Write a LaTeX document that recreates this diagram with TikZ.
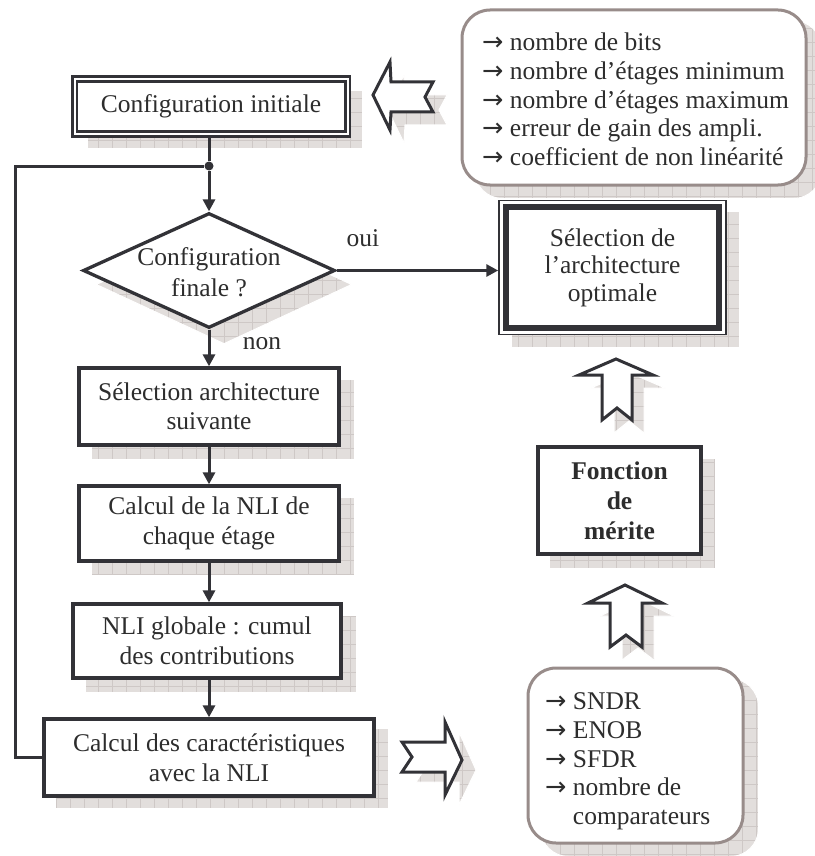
\documentclass[tikz,border=0pt]{standalone}
\usepackage{fontspec}
\setmainfont{Liberation Serif}
\newfontfamily\arrowfont{DejaVu Sans}
\usetikzlibrary{shapes.geometric,arrows.meta,backgrounds}
\definecolor{ink}{RGB}{50,50,55}
\definecolor{txt}{RGB}{45,45,45}
\definecolor{shfill}{RGB}{226,222,220}
\definecolor{shgrid}{RGB}{206,200,198}
\definecolor{rbord}{RGB}{152,140,138}
\newcommand\ar{{\arrowfont →}}
\newcommand\dropsh[1]{%
  \begin{scope}
    \clip #1;
    \fill[shfill] (0,0) rectangle (830,870);
    \foreach \g in {0,14,...,868}{%
      \draw[shgrid,line width=0.6pt] (\g,0) -- (\g,870);
      \draw[shgrid,line width=0.6pt] (0,\g) -- (830,\g);}
  \end{scope}
  \draw[white,line width=1pt] #1;}
\begin{document}
\begin{tikzpicture}[x=1pt,y=-1pt,
  font=\fontsize{25.5}{29.5}\selectfont, text=txt,
  procbox/.style={draw=ink, line width=3.3pt, fill=white, align=center, inner sep=0pt},
  listbox/.style={draw=rbord, line width=3pt, rounded corners=28pt, fill=white, inner sep=0pt},
  listtext/.style={anchor=west, align=left, inner sep=0pt, font=\fontsize{25.5}{28.75}\selectfont},
  conn/.style={draw=ink, line width=3pt},
  arr/.style={conn, -{Triangle[length=12pt,width=12pt]}},
  harrow/.style={draw=ink, line width=3pt, fill=white, line join=miter}]
\useasboundingbox (0,0) rectangle (814,856);

% nodes
\node[procbox, line width=2.8pt, double=white, double distance=2pt,
      minimum width=273, minimum height=55] (init) at (211,106.5) {Configuration initiale};
\node[circle, fill=ink, inner sep=0pt, minimum size=9] (dot) at (209,166) {};
\node[diamond, draw=ink, line width=3.3pt, fill=white, inner sep=0pt,
      minimum width=252, minimum height=115] (dia) at (209,270.5) {};
\node[align=center] (dtxt) at (209,272) {Configuration\\[1pt]finale ?};
\node (oui) at (363,238) {oui};
\node (non) at (262,344) {non};

\node[procbox, line width=1.5pt, minimum width=227, minimum height=134] (opt) at (612.5,267.5)
  {Sélection de\\[-2pt]l’architecture\\[-2pt]optimale};
\draw[ink, line width=6pt] ([shift={(7.5,7.5)}]opt.north west) rectangle ([shift={(-7.5,-7.5)}]opt.south east);

\node[procbox, minimum width=260, minimum height=77] (sel) at (209,406.5) {Sélection architecture\\suivante};
\node[procbox, minimum width=260, minimum height=75] (nli) at (209,523.5) {Calcul de la NLI de\\chaque étage};
\node[procbox, minimum width=268, minimum height=74] (glob) at (207,641) {NLI globale : cumul\\des contributions};
\node[procbox, minimum width=330, minimum height=77] (car) at (209,757.5) {Calcul des caractéristiques\\avec la NLI};
\node[procbox, minimum width=163, minimum height=107, font=\fontsize{25.5}{30}\selectfont\bfseries] (fm) at (619.5,500.5)
  {Fonction\\de\\mérite};

\node[listbox, minimum width=344, minimum height=175] (params) at (634,97.5) {};
\node[listtext] (ptxt) at (482,99.5)
  {\ar\ nombre de bits\\\ar\ nombre d’étages minimum\\\ar\ nombre d’étages maximum\\\ar\ erreur de gain des ampli.\\\ar\ coefficient de non linéarité};
\node[listbox, minimum width=215, minimum height=175] (res) at (635.5,755.5) {};
\node[listtext] (rtxt) at (545,761.5)
  {\ar\ SNDR\\\ar\ ENOB\\\ar\ SFDR\\\ar\ nombre de\\\phantom{\ar\ }comparateurs};

% hollow arrows
\draw[harrow] (373,95) -- (390,62) -- (391,82) -- (433,82) -- (425,97) -- (433,112) -- (391,112) -- (390,130) -- cycle;
\draw[harrow] (462,760) -- (445,722) -- (445,742) -- (402,742) -- (412,757) -- (402,772) -- (445,772) -- (445,795) -- cycle;
\draw[harrow] (616,359) -- (579,375) -- (602,375) -- (602,420) -- (617,408) -- (632,420) -- (632,375) -- (653,375) -- cycle;
\draw[harrow] (625,585) -- (588,603) -- (610,603) -- (610,647) -- (626,635) -- (642,647) -- (642,603) -- (662,603) -- cycle;

% connectors
\draw[conn] (init.south -| dot) -- (dot);
\draw[arr] (dot) -- (dia.north);
\draw[arr] (dia.east) -- (dia.east -| opt.west);
\draw[arr] (dia.south) -- (sel.north);
\draw[arr] (sel.south) -- (nli.north);
\draw[arr] (nli.south) -- (glob.north -| nli.south);
\draw[arr] (glob.south -| car.north) -- (car.north);
\coordinate (lp) at (15,166);
\draw[conn] (car.west) -| (lp) -- (dot);

% shadows
\begin{pgfonlayer}{background}
\dropsh{([shift={(14,13)}]init.north west) rectangle ([shift={(14,13)}]init.south east)}
\dropsh{([shift={(15,14)}]dia.north) -- ([shift={(15,14)}]dia.east) -- ([shift={(15,14)}]dia.south) -- ([shift={(15,14)}]dia.west) -- cycle}
\dropsh{([shift={(13,12)}]opt.north west) rectangle ([shift={(13,12)}]opt.south east)}
\dropsh{([shift={(14,13)}]sel.north west) rectangle ([shift={(14,13)}]sel.south east)}
\dropsh{([shift={(14,13)}]nli.north west) rectangle ([shift={(14,13)}]nli.south east)}
\dropsh{([shift={(14,13)}]glob.north west) rectangle ([shift={(14,13)}]glob.south east)}
\dropsh{([shift={(13,11)}]car.north west) rectangle ([shift={(13,11)}]car.south east)}
\dropsh{([shift={(13,13)}]fm.north west) rectangle ([shift={(13,13)}]fm.south east)}
\dropsh{[rounded corners=28pt] ([shift={(14,12)}]params.north west) rectangle ([shift={(14,12)}]params.south east)}
\dropsh{[rounded corners=28pt] ([shift={(14,12)}]res.north west) rectangle ([shift={(14,12)}]res.south east)}
\dropsh{[shift={(14,13)}] (373,95) -- (390,62) -- (391,82) -- (433,82) -- (425,97) -- (433,112) -- (391,112) -- (390,130) -- cycle}
\dropsh{[shift={(14,10)}] (462,760) -- (445,722) -- (445,742) -- (402,742) -- (412,757) -- (402,772) -- (445,772) -- (445,795) -- cycle}
\dropsh{[shift={(12,13)}] (616,359) -- (579,375) -- (602,375) -- (602,420) -- (617,408) -- (632,420) -- (632,375) -- (653,375) -- cycle}
\dropsh{[shift={(12,13)}] (625,585) -- (588,603) -- (610,603) -- (610,647) -- (626,635) -- (642,647) -- (642,603) -- (662,603) -- cycle}
\end{pgfonlayer}
\end{tikzpicture}
\end{document}
